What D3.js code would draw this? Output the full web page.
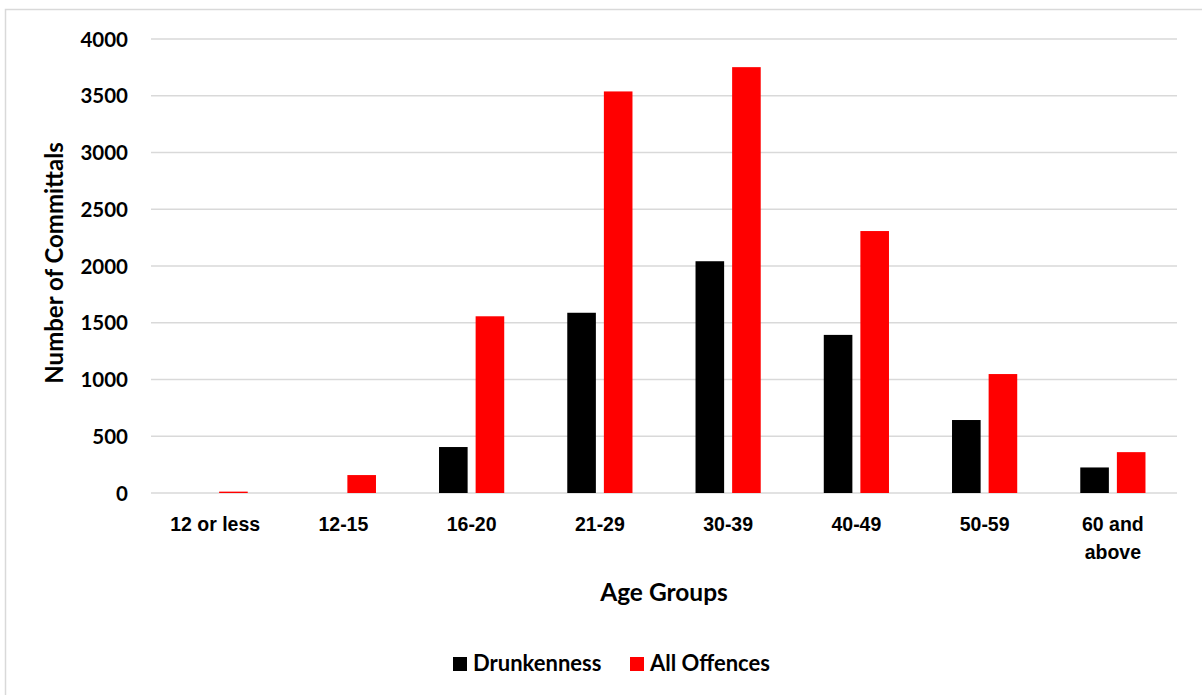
<!DOCTYPE html>
<html>
<head>
<meta charset="utf-8">
<script src="https://cdn.jsdelivr.net/npm/d3@7"></script>
<style>
  html, body { margin: 0; padding: 0; background: #fff; }
  svg { display: block; font-family: "Lato", "Open Sans", sans-serif; font-weight: 700; }
</style>
</head>
<body>
<svg id="chart" width="1202" height="695"></svg>
<script>
const categories = ["12 or less", "12-15", "16-20", "21-29", "30-39", "40-49", "50-59", "60 and above"];
const seriesNames = ["Drunkenness", "All Offences"];
const drunkenness = [0, 0, 405, 1588, 2042, 1393, 643, 225];
const allOffences = [12, 158, 1557, 3538, 3752, 2308, 1048, 360];
const yTicks = [0, 500, 1000, 1500, 2000, 2500, 3000, 3500, 4000];
const colors = ["#000000", "#ff0000"];

const svg = d3.select("#chart");
// outer border
svg.append("rect").attr("x", 5.5).attr("y", 9.5).attr("width", 1210).attr("height", 700)
  .attr("fill", "none").attr("stroke", "#d9d9d9").attr("stroke-width", 1.5);

const plotLeft = 151, plotRight = 1177, plotTop = 39, plotBottom = 493;
const x = d3.scaleBand().domain(categories).range([plotLeft, plotRight]).paddingInner(0).paddingOuter(0);
const y = d3.scaleLinear().domain([0, 4000]).range([plotBottom, plotTop]);

// gridlines
svg.append("g").selectAll("line").data(yTicks).join("line")
  .attr("x1", plotLeft).attr("x2", plotRight)
  .attr("y1", d => y(d)).attr("y2", d => y(d))
  .attr("stroke", "#d9d9d9").attr("stroke-width", 1.5);

// y axis labels
const yAxis = d3.axisLeft(y).tickValues(yTicks).tickFormat(d3.format("d")).tickSize(0).tickPadding(0);
const ya = svg.append("g").attr("transform", `translate(128,0)`).call(yAxis);
ya.select(".domain").remove();
ya.selectAll("text").attr("font-size", 20.5).attr("font-family", "Lato").attr("font-weight", 700).attr("fill", "#000").attr("dy", "0.35em");

// bars
const barW = 28.6, gap = 8;
const data = categories.map((c, i) => ({c, vals: [drunkenness[i], allOffences[i]]}));
const g = svg.append("g");
data.forEach(d => {
  const cx = x(d.c) + x.bandwidth() / 2;
  const start = cx - (2 * barW + gap) / 2;
  d.vals.forEach((v, j) => {
    if (v <= 0) return;
    g.append("rect")
      .attr("x", start + j * (barW + gap))
      .attr("y", y(v))
      .attr("width", barW)
      .attr("height", y(0) - y(v))
      .attr("fill", colors[j]);
  });
});

// x axis labels
const xAxis = d3.axisBottom(x).tickSize(0).tickPadding(0);
const xa = svg.append("g").attr("transform", `translate(0,${plotBottom})`).call(xAxis);
xa.select(".domain").remove();
xa.selectAll("text").remove();
xa.selectAll(".tick").each(function(d) {
  const t = d3.select(this).append("text")
    .attr("text-anchor", "middle").attr("font-size", 19.5).attr("fill", "#000");
  const lines = d === "60 and above" ? ["60 and", "above"] : [d];
  lines.forEach((ln, k) => t.append("tspan").attr("x", 0).attr("y", 38 + k * 28).text(ln));
});

// axis titles
svg.append("text").attr("x", 664).attr("y", 601).attr("text-anchor", "middle")
  .attr("font-size", 24.5).attr("fill", "#000").text("Age Groups");
svg.append("text").attr("transform", "translate(63,263) rotate(-90)").attr("text-anchor", "middle")
  .attr("font-size", 24).attr("fill", "#000").text("Number of Committals");

// legend
const legend = svg.append("g");
const legItems = [{name: seriesNames[0], x: 453}, {name: seriesNames[1], x: 630}];
legItems.forEach((it, i) => {
  legend.append("rect").attr("x", it.x).attr("y", 657).attr("width", 14).attr("height", 14).attr("fill", colors[i]);
  legend.append("text").attr("x", it.x + 20).attr("y", 671).attr("font-size", 22).attr("fill", "#000").text(it.name);
});
</script>
</body>
</html>
